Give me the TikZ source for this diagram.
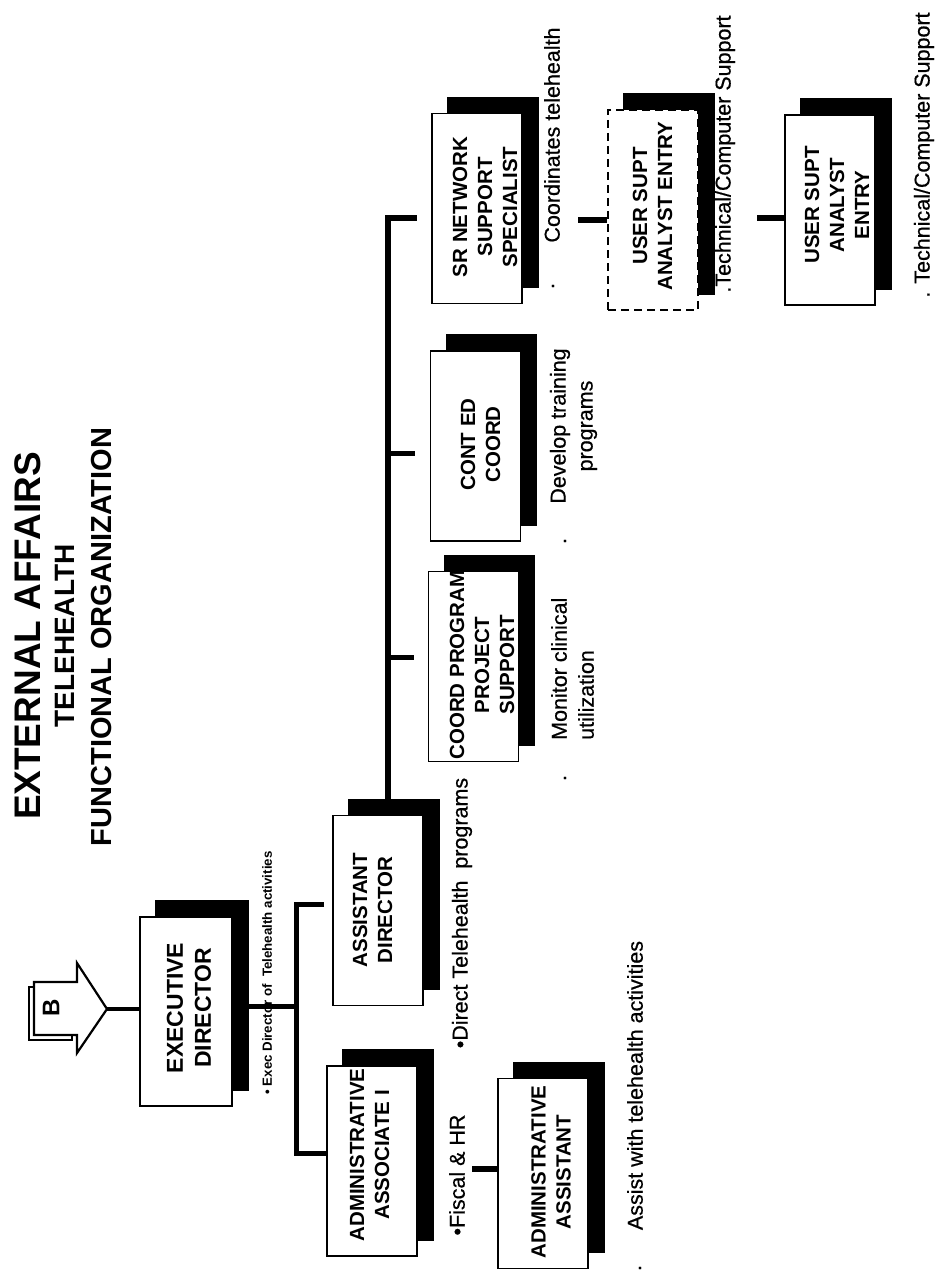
\documentclass[tikz,border=0pt]{standalone}
\usepackage{fontspec}
\setmainfont{Liberation Sans}
\newfontfamily\descfont{Liberation Sans}[FakeBold=0.6]
\newcommand\myfs[2]{\fontsize{#1}{#2}\selectfont}
\pgfdeclarelayer{paper}
\pgfdeclarelayer{back}
\pgfsetlayers{paper,back,main}
\newcommand\shadowof[1]{\fill[black] ([shift={(16pt,16pt)}]#1.south west) rectangle ([shift={(16pt,16pt)}]#1.north east);}
\begin{document}
\begin{tikzpicture}[x=1pt,y=-1pt,
  orgbox/.style={draw, fill=white, line width=1.8pt, minimum width=90pt, minimum height=190pt, inner sep=0pt},
  dashbox/.style={orgbox, dash pattern=on 8pt off 5pt},
  boxtext/.style={rotate=90, inner sep=0pt, align=center, font=\bfseries\myfs{20.5}{25}},
  desc/.style={rotate=90, inner sep=0pt, font=\descfont\myfs{21.5}{27}},
  titletext/.style={rotate=90, inner sep=0pt},
  conn/.style={line width=5pt, line cap=butt, line join=miter},
  stubline/.style={line width=6pt, line cap=butt},
  arrowline/.style={line width=2.2pt, line join=miter, fill=white},
]
\useasboundingbox (0,0) rectangle (939,1276);
\begin{pgfonlayer}{paper}
  \fill[white] (0,0) rectangle (939,1276);
\end{pgfonlayer}

% ---------- title ----------
\node[titletext, font=\bfseries\myfs{37}{40}] (t1) at (28,636) {EXTERNAL AFFAIRS};
\node[titletext, font=\bfseries\myfs{28}{30}] (t2) at (65,636) {TELEHEALTH};
\node[titletext, font=\bfseries\myfs{29}{31}] (t3) at (102,637) {FUNCTIONAL ORGANIZATION};

% ---------- boxes ----------
\node[orgbox, minimum width=92pt, minimum height=189pt] (exec) at (186,1011.5) {};
\node[orgbox] (asst)   at (378,910.5) {};
\node[orgbox] (adm1)   at (372,1161) {};
\node[orgbox] (adm2)   at (543,1173.5) {};
\node[orgbox] (coord)  at (473.5,666.5) {};
\node[orgbox] (conted) at (475.5,446) {};
\node[orgbox] (srnet)  at (477,208.5) {};
\node[dashbox, minimum height=200pt] (usr1) at (653,210) {};
\node[orgbox] (usr2)   at (830,210) {};

\begin{pgfonlayer}{back}
  \shadowof{exec}\shadowof{asst}\shadowof{adm1}\shadowof{adm2}
  \shadowof{coord}\shadowof{conted}\shadowof{srnet}\shadowof{usr1}\shadowof{usr2}
\end{pgfonlayer}

% ---------- box texts ----------
\node[boxtext, font=\bfseries\myfs{23}{28}] (execT) at (189,1008) {EXECUTIVE\\DIRECTOR};
\node[boxtext] (asstT)   at (372.5,910) {ASSISTANT\\DIRECTOR};
\node[boxtext] (adm1T)   at (369.5,1155) {ADMINISTRATIVE\\ASSOCIATE I};
\node[boxtext] (adm2T)   at (551,1172) {ADMINISTRATIVE\\ASSISTANT};
\node[boxtext] (contedT) at (480.5,444.5) {CONT ED\\COORD};
\node[boxtext] (coordT)  at (482,665) {COORD PROGRAM\\PROJECT\\SUPPORT};
\node[boxtext] (srnetT)  at (485,207) {SR NETWORK\\SUPPORT\\SPECIALIST};
\node[boxtext] (usr1T)   at (652.5,206) {USER SUPT\\ANALYST ENTRY};
\node[boxtext] (usr2T)   at (837,205) {USER SUPT\\ANALYST\\ENTRY};

% ---------- descriptions ----------
\node[rotate=90, inner sep=0pt, font=\bfseries\myfs{13.3}{15}] (execD) at (267,973) {• Exec Director of\ \ Telehealth activities};
\node[desc] (asstD)  at (462,913) {•Direct Telehealth\ \ programs};
\node[desc] (adm1D)  at (457,1175) {•Fiscal \& HR};
\node[desc] (adm2B)  at (640,1268) {.};
\node[desc] (adm2D)  at (635,1085.5) {Assist with telehealth activities};
\node[desc] (coordB) at (565,778) {.};
\node[desc, align=left, anchor=west] (coordD) at (572.5,740) {Monitor clinical\\utilization};
\node[desc] (contB)  at (565,541) {.};
\node[desc, align=center] (contD) at (573.5,426) {Develop training\\programs};
\node[desc] (srB)    at (553,286) {.};
\node[desc] (srD)    at (552,135) {Coordinates telehealth};
\node[desc] (usr1D)  at (725,154) {.Technical/Computer Support};
\node[desc] (usr2D)  at (924,155) {. Technical/Computer Support};

% ---------- arrow B ----------
\draw[arrowline] (29,987) -- (72,987) -- (72,1040) -- (29,1040) -- cycle;
\draw[arrowline] (34,982) -- (77,982) -- (77,963) -- (107,1009) -- (77,1053) -- (77,1035) -- (34,1035) -- cycle;
\node[rotate=90, inner sep=0pt, font=\bfseries\myfs{24}{26}] (bl) at (51,1008) {B};
\coordinate (arrowtip) at (107,1009);
\draw[line width=4pt] (arrowtip) -- (exec.west |- arrowtip);

% ---------- bracket under executive director ----------
\coordinate (brTop) at (296,904);
\coordinate (brMid) at (296,1006);
\coordinate (brBot) at (296,1153);
\coordinate (asstIn) at ([xshift=-8pt]asst.west);
\draw[conn] (exec.east |- brMid) -- (brMid);
\draw[conn] (asstIn |- brTop) -- (brTop) -- (brBot) -- (adm1.west |- brBot);

% ---------- trunk from assistant director ----------
\coordinate (trTop) at (388,218);
\coordinate (tC) at (388,453);
\coordinate (tP) at (388,657);
\coordinate (srIn) at ([xshift=-14pt]srnet.west);
\coordinate (contIn) at ([xshift=-15pt]conted.west);
\coordinate (coordIn) at ([xshift=-14pt]coord.west);
\draw[conn, line width=5.5pt] (asst.north -| trTop) -- (trTop) -- (srIn |- trTop);
\draw[conn] (tC) -- (contIn |- tC);
\draw[conn] (tP) -- (coordIn |- tP);

% ---------- free stubs ----------
\coordinate (a2s) at (472,1169);
\draw[stubline] (a2s) -- (adm2.west |- a2s);
\coordinate (u1s) at (578,220);
\draw[stubline] (u1s) -- (usr1.west |- u1s);
\coordinate (u2s) at (757,218);
\draw[stubline] (u2s) -- (usr2.west |- u2s);
\end{tikzpicture}
\end{document}
